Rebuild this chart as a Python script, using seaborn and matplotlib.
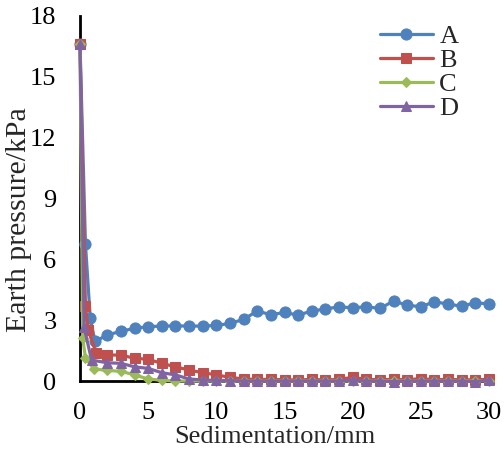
import pandas as pd
import seaborn as sns
import matplotlib.pyplot as plt

# ======================================
# DADOS
# ======================================

x_a = [0, 0.4, 0.75, 1.1, 2, 3, 4, 5, 6, 7, 8, 9, 10, 11, 12, 13, 14, 15,
       16, 17, 18, 19, 20, 21, 22, 23, 24, 25, 26, 27, 28, 29, 30]
y_a = [16.6, 6.75, 3.1, 1.95, 2.27, 2.45, 2.6, 2.68, 2.71, 2.72, 2.71, 2.71,
       2.74, 2.84, 3.04, 3.45, 3.27, 3.38, 3.25, 3.45, 3.55, 3.66, 3.61, 3.66,
       3.58, 3.94, 3.74, 3.66, 3.91, 3.79, 3.69, 3.86, 3.8]

x_b = [0, 0.4, 0.6, 1.2, 2, 3, 4, 5, 6, 7, 8, 9, 10, 11, 12, 13, 14, 15,
       16, 17, 18, 19, 20, 21, 22, 23, 24, 25, 26, 27, 28, 29, 30]
y_b = [16.6, 3.7, 2.5, 1.36, 1.28, 1.28, 1.12, 1.07, 0.87, 0.7, 0.54, 0.41,
       0.3, 0.18, 0.1, 0.08, 0.08, 0.06, 0.05, 0.08, 0.05, 0.08, 0.18, 0.08,
       0.06, 0.08, 0.06, 0.12, 0.06, 0.08, 0.06, 0.06, 0.08]

x_c = [0, 0.2, 0.4, 1, 2, 3, 4, 5, 6, 7, 8, 9, 10, 11, 12, 13, 14, 15,
       16, 17, 18, 19, 20, 21, 22, 23, 24, 25, 26, 27, 28, 29, 30]
y_c = [16.6, 2.1, 1.15, 0.6, 0.52, 0.48, 0.3, 0.1, 0.03, 0.0, 0.0, 0.0,
       0.0, 0.0, 0.0, 0.0, 0.0, 0.0, 0.0, 0.0, 0.0, 0.0, 0.0, 0.0,
       0.0, 0.0, 0.0, 0.0, 0.0, 0.0, 0.0, 0.0, 0.02]

x_d = [0, 0.3, 0.85, 2, 3, 4, 5, 6, 7, 8, 9, 10, 11, 12, 13, 14, 15,
       16, 17, 18, 19, 20, 21, 22, 23, 24, 25, 26, 27, 28, 29, 30]
y_d = [16.6, 2.65, 1.03, 0.9, 0.87, 0.7, 0.62, 0.41, 0.3, 0.1, 0.05, 0.03,
       0.02, 0.0, 0.0, 0.0, 0.0, 0.0, 0.0, 0.0, 0.0, 0.05, 0.0, 0.0,
       -0.03, 0.0, 0.0, 0.0, 0.0, 0.0, -0.03, 0.05]

rotulos = ['A', 'B', 'C', 'D']
cores = ['#4F81BD', '#C0504D', '#9BBB59', '#8064A2']
marcadores = ['o', 's', 'D', '^']
tamanhos = [8, 7.5, 5.5, 7.5]

xticks = [0, 5, 10, 15, 20, 25, 30]
yticks = [0, 3, 6, 9, 12, 15, 18]

# ======================================
# ESTILO
# ======================================

sns.set_style('white')
plt.rcParams['font.family'] = ['Liberation Serif', 'DejaVu Serif']

fig = plt.figure(figsize=(5.04, 4.51), dpi=100)
ax = fig.add_axes([80 / 504, 70 / 451, 409 / 504, 365 / 451])

series = [(x_a, y_a), (x_b, y_b), (x_c, y_c), (x_d, y_d)]
for (xs, ys), lab, cor, mk, ms in zip(series, rotulos, cores, marcadores, tamanhos):
    sns.lineplot(x=xs, y=ys, ax=ax, color=cor, marker=mk, markersize=ms,
                 markeredgecolor=cor, linewidth=2.3, label=lab, sort=False,
                 clip_on=False, zorder=3)

ax.set_xlim(0, 30)
ax.set_ylim(0, 18)
ax.set_xticks(xticks)
ax.set_yticks(yticks)

for lado in ['top', 'right']:
    ax.spines[lado].set_visible(False)
for lado in ['left', 'bottom']:
    ax.spines[lado].set_color('black')
    ax.spines[lado].set_linewidth(2)

ax.tick_params(axis='both', direction='in', length=5, width=2, color='black',
               labelsize=19, labelcolor='black')
ax.tick_params(axis='y', pad=17)
ax.tick_params(axis='x', pad=15)

ax.set_xlabel('Sedimentation/mm', fontsize=19)
ax.set_ylabel('Earth pressure/kPa', fontsize=21.5)
ax.xaxis.set_label_coords(0.477, -0.123)
ax.yaxis.set_label_coords(-0.118, 0.441)

ax.legend(loc='upper left', bbox_to_anchor=(380 / 504, 1 - 25 / 451),
          bbox_transform=fig.transFigure, frameon=False, fontsize=19,
          handlelength=2.0, handletextpad=0.25, labelspacing=0.02,
          borderaxespad=0, borderpad=0)

plt.savefig('out.png', dpi=100)
